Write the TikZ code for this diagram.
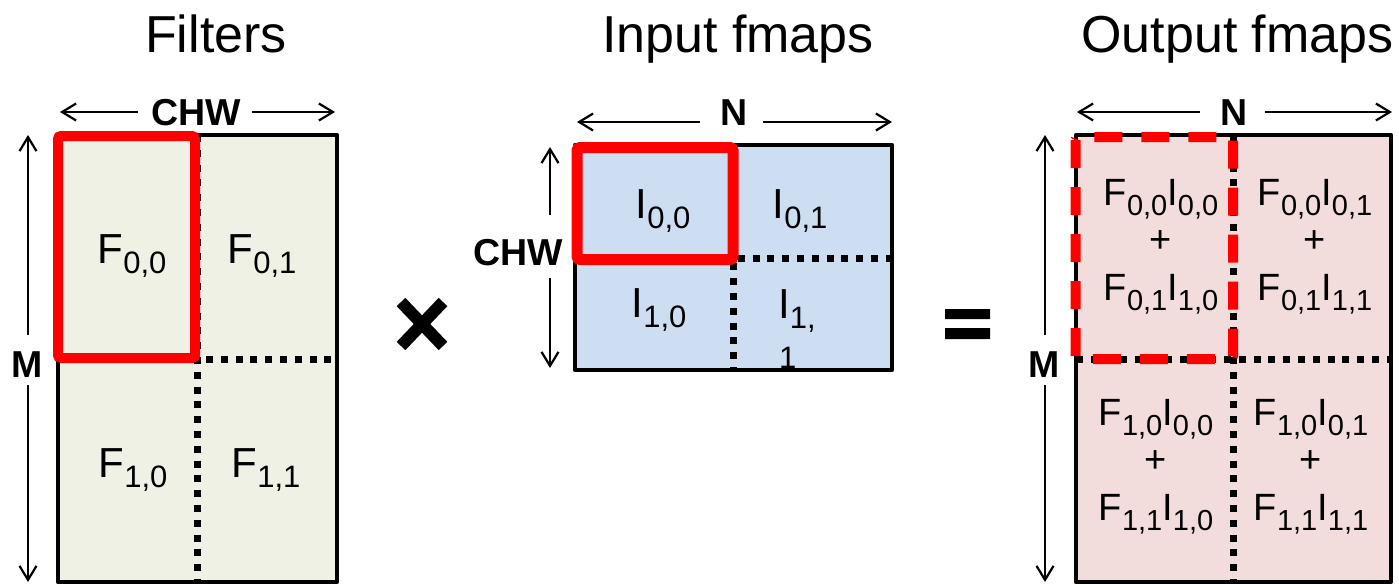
\documentclass[tikz,border=0pt]{standalone}
\usepackage{fontspec}
\setmainfont{Liberation Sans}
\usetikzlibrary{arrows.meta}

\definecolor{filtfill}{HTML}{EEF1E4}
\definecolor{infill}{HTML}{CDDDF2}
\definecolor{outfill}{HTML}{F2DDDC}
\definecolor{hired}{HTML}{FF0000}

% symbol with a lowered index, two sizes
\newcommand\bigsub[2]{#1\raisebox{-10.5pt}{\fontsize{31}{31}\selectfont #2}}
\newcommand\smsub[2]{#1\raisebox{-10pt}{\fontsize{29}{29}\selectfont #2}}

% one output cell: product, plus sign, product
\newcommand\prodcell[5]{%
  \node[cellsm] (#1-a) at (#2,#3) {#4};
  \node[cellsm] (#1-p) at (#2,#3+47) {+};
  \node[cellsm] (#1-b) at (#2,#3+95) {#5};}

\begin{document}
\begin{tikzpicture}[x=1pt,y=-1pt,
  title/.style={anchor=base,inner sep=0pt,font=\fontsize{52}{60}\selectfont},
  dimlabel/.style={anchor=base,inner sep=0pt,font=\bfseries\fontsize{37.5}{40}\selectfont},
  dim/.style={line width=2.2pt,-{Straight Barb[length=14pt,width=17pt]}},
  cellbig/.style={anchor=base,inner sep=0pt,font=\fontsize{42}{42}\selectfont},
  cellsm/.style={anchor=base,inner sep=0pt,font=\fontsize{38}{38}\selectfont},
  border/.style={draw=black,line width=4.5pt,line join=round},
  dotline/.style={line width=7pt,dash pattern=on 7pt off 7.8pt},
  redbox/.style={draw=hired,line width=10pt,rounded corners=3pt},
  reddash/.style={redbox,dash pattern=on 28pt off 19pt}]

\useasboundingbox (0,0) rectangle (1399,584);

% matrix backgrounds
\fill[filtfill] (58,135) rectangle (337,582);
\fill[infill] (575,145) rectangle (892,370);
\fill[outfill] (1076,135) rectangle (1391,582);

% block dividers
\draw[dotline] (197,135) -- (197,582);
\draw[dotline] (58,359) -- (337,359);
\draw[dotline] (733,145) -- (733,370);
\draw[dotline] (575,258) -- (892,258);
\draw[dotline] (1233,135) -- (1233,582);
\draw[dotline] (1076,359) -- (1391,359);

% titles
\node[title] (tF) at (216,52) {Filters};
\node[title] (tI) at (738,52) {Input fmaps};
\node[title] (tO) at (1237.5,52) {Output fmaps};

% dimension labels
\node[dimlabel] (chwL) at (196,125) {CHW};
\node[dimlabel] (mL) at (27.5,377) {M};
\node[dimlabel] (nI) at (734,125) {N};
\node[dimlabel] (chwI) at (518,265) {CHW};
\node[dimlabel] (nO) at (1234.5,125) {N};
\node[dimlabel] (mO) at (1044,377) {M};

% dimension arrows
\coordinate (chwL-l) at (60,112);   \coordinate (chwL-a) at (138,112);
\coordinate (chwL-b) at (252,112);  \coordinate (chwL-r) at (335,112);
\coordinate (mL-t) at (28,135);     \coordinate (mL-a) at (28,335);
\coordinate (mL-b) at (28,385);     \coordinate (mL-d) at (28,582);
\coordinate (nI-l) at (577,122);    \coordinate (nI-a) at (700,122);
\coordinate (nI-b) at (763,122);    \coordinate (nI-r) at (892,122);
\coordinate (chwI-t) at (550,147);  \coordinate (chwI-a) at (550,215);
\coordinate (chwI-b) at (550,278);  \coordinate (chwI-d) at (550,368);
\coordinate (nO-l) at (1077,112);   \coordinate (nO-a) at (1200,112);
\coordinate (nO-b) at (1265,112);   \coordinate (nO-r) at (1392,112);
\coordinate (mO-t) at (1045,135);   \coordinate (mO-a) at (1045,335);
\coordinate (mO-b) at (1045,385);   \coordinate (mO-d) at (1045,582);

\draw[dim] (chwL-a) -- (chwL-l);  \draw[dim] (chwL-b) -- (chwL-r);
\draw[dim] (mL-a) -- (mL-t);      \draw[dim] (mL-b) -- (mL-d);
\draw[dim] (nI-a) -- (nI-l);      \draw[dim] (nI-b) -- (nI-r);
\draw[dim] (chwI-a) -- (chwI-t);  \draw[dim] (chwI-b) -- (chwI-d);
\draw[dim] (nO-a) -- (nO-l);      \draw[dim] (nO-b) -- (nO-r);
\draw[dim] (mO-a) -- (mO-t);      \draw[dim] (mO-b) -- (mO-d);

% filter blocks
\node[cellbig] (f00) at (132,263) {\bigsub{F}{0,0}};
\node[cellbig] (f01) at (262,263) {\bigsub{F}{0,1}};
\node[cellbig] (f10) at (133,477) {\bigsub{F}{1,0}};
\node[cellbig] (f11) at (266,477) {\bigsub{F}{1,1}};

% input blocks
\node[cellbig] (i00) at (663,218) {\bigsub{I}{0,0}};
\node[cellbig] (i01) at (800,218) {\bigsub{I}{0,1}};
\node[cellbig] (i10) at (659,317) {\bigsub{I}{1,0}};
\node[cellbig,anchor=base west] (i11) at (778,318) {\bigsub{I}{1,}};
\node[anchor=base west,inner sep=0pt,font=\fontsize{31}{31}\selectfont] (i11b) at (779,368) {1};

% output blocks
\prodcell{o00}{1161}{205}{\smsub{F}{0,0}\smsub{I}{0,0}}{\smsub{F}{0,1}\smsub{I}{1,0}}
\prodcell{o01}{1315}{205}{\smsub{F}{0,0}\smsub{I}{0,1}}{\smsub{F}{0,1}\smsub{I}{1,1}}
\prodcell{o10}{1156}{425}{\smsub{F}{1,0}\smsub{I}{0,0}}{\smsub{F}{1,1}\smsub{I}{1,0}}
\prodcell{o11}{1311}{425}{\smsub{F}{1,0}\smsub{I}{0,1}}{\smsub{F}{1,1}\smsub{I}{1,1}}

% operators
\draw[line width=12pt] (401,302) -- (443,346) (443,302) -- (401,346);
\fill (945,309) rectangle (990,319) (945,328) rectangle (990,339);

% matrix outlines
\draw[border] (58,135) rectangle (337,582);
\draw[border] (575,145) rectangle (892,370);
\draw[border] (1076,135) rectangle (1391,582);

% highlighted blocks
\draw[redbox] (58,136) rectangle (195,358);
\draw[redbox,line width=11pt] (577,147.5) rectangle (733,259.5);
\draw[reddash] (1075.5,137) rectangle (1233,359);
\end{tikzpicture}
\end{document}
